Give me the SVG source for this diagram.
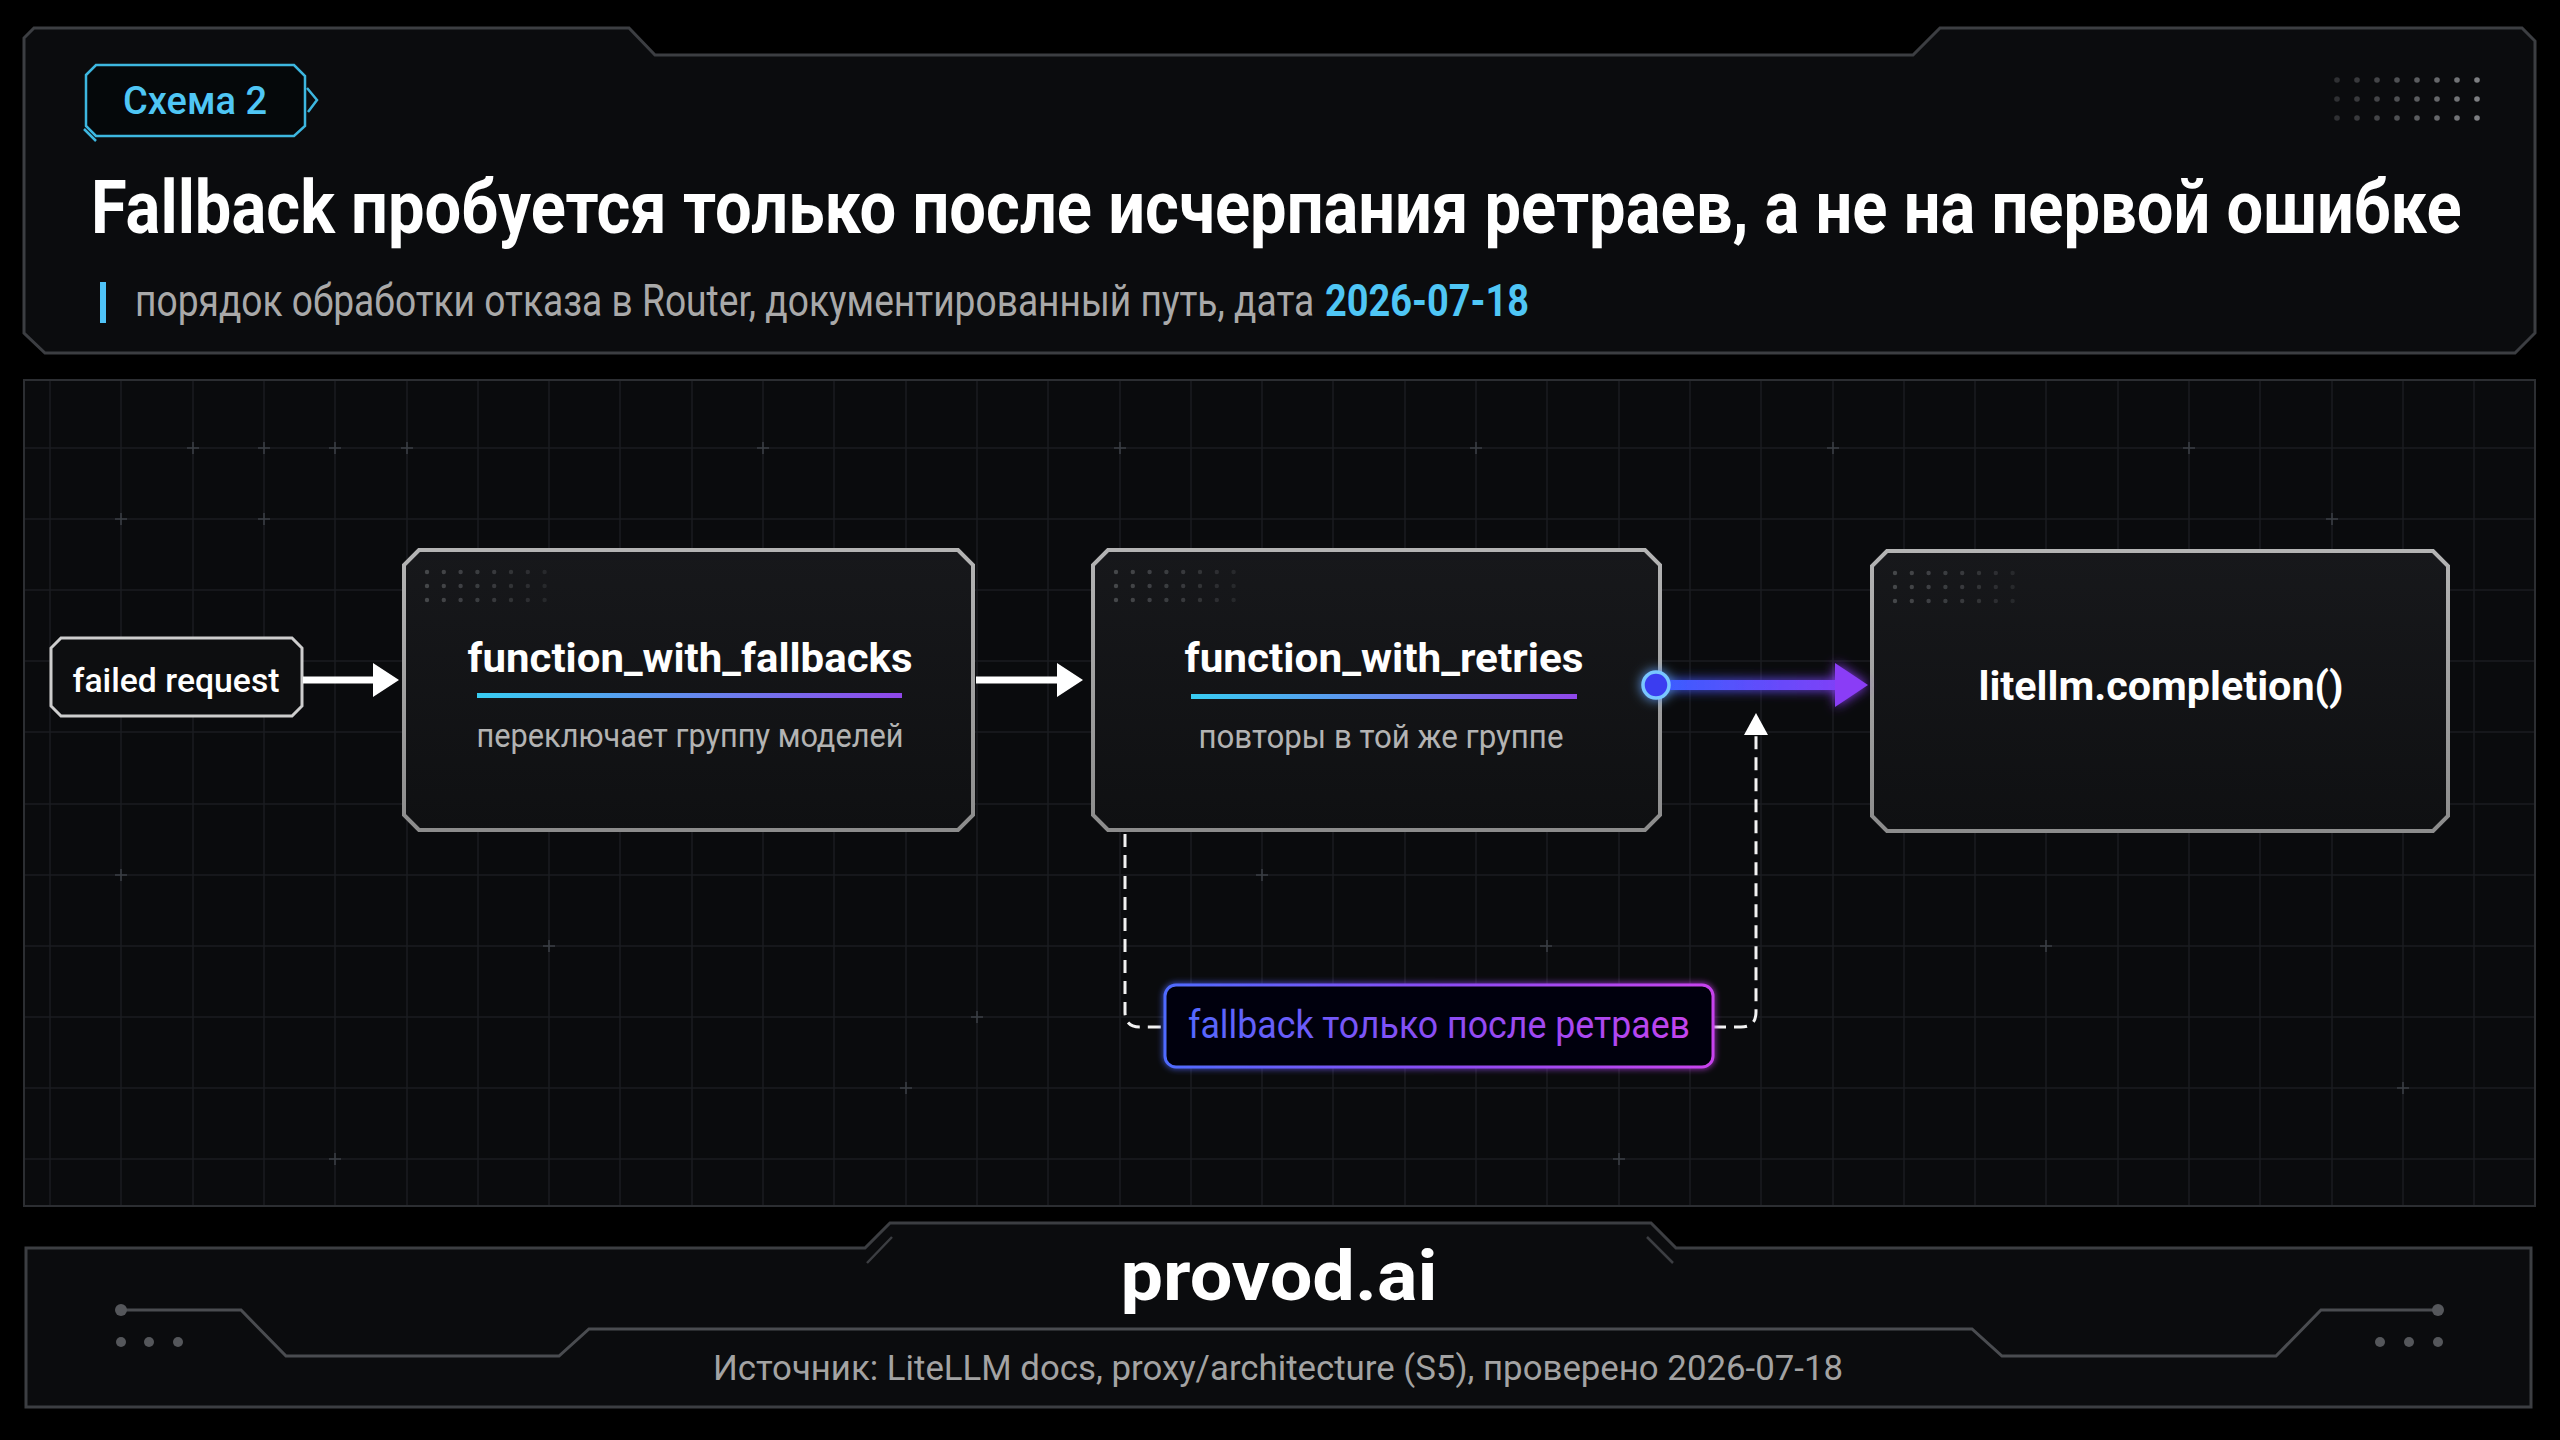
<svg xmlns="http://www.w3.org/2000/svg" width="2560" height="1440" viewBox="0 0 2560 1440">
<defs>
<style>
.panel{fill:#0b0c0e;stroke:#3c3e42;stroke-width:3}
.grid{stroke:#1b1d21;stroke-width:1.5;fill:none}
.cross{stroke:#3b3f45;stroke-width:1.5;fill:none}
.node{fill:url(#nodeFill);stroke:url(#nodeStroke);stroke-width:4}
.dot{fill:#5a5c60}
.t{font-family:Roboto,"Noto Sans",sans-serif}
.ntitle{font-family:Roboto,"Noto Sans",sans-serif;font-weight:700;font-size:40px;fill:#ffffff}
.nsub{font-family:Roboto,"Noto Sans",sans-serif;font-weight:400;font-size:33px;fill:#b3b3b3}
.wline{stroke:#ffffff;stroke-width:7;fill:none}
.dash{stroke:#f2f2f2;stroke-width:3;fill:none;stroke-dasharray:13 8}
.circ{fill:none;stroke:#4a4c50;stroke-width:3}
.cdot{fill:#55575b}
.hdot{fill:#9a9ca0}
</style>
<linearGradient id="nodeFill" x1="0" y1="0" x2="0" y2="1">
<stop offset="0" stop-color="#17181b"/><stop offset="1" stop-color="#0f1012"/>
</linearGradient>
<linearGradient id="nodeStroke" x1="0" y1="0" x2="0" y2="1">
<stop offset="0" stop-color="#b4b4b4"/><stop offset="1" stop-color="#8c8c8c"/>
</linearGradient>
<linearGradient id="bar" x1="0" y1="0" x2="1" y2="0">
<stop offset="0" stop-color="#38cdf2"/><stop offset="1" stop-color="#9047ea"/>
</linearGradient>
<linearGradient id="blueLine" x1="1670" y1="0" x2="1868" y2="0" gradientUnits="userSpaceOnUse">
<stop offset="0" stop-color="#3d5cff"/><stop offset="1" stop-color="#8a3cf6"/>
</linearGradient>
<linearGradient id="labelGrad" x1="1165" y1="0" x2="1713" y2="0" gradientUnits="userSpaceOnUse">
<stop offset="0" stop-color="#4f6bff"/><stop offset="0.5" stop-color="#8a4cf4"/><stop offset="1" stop-color="#c843ee"/>
</linearGradient>
<filter id="glow" x="-20%" y="-50%" width="140%" height="200%">
<feGaussianBlur stdDeviation="6" result="b"/>
<feMerge><feMergeNode in="b"/><feMergeNode in="SourceGraphic"/></feMerge>
</filter>
<filter id="softglow" x="-10%" y="-30%" width="120%" height="160%">
<feGaussianBlur stdDeviation="3" result="b"/>
<feMerge><feMergeNode in="b"/><feMergeNode in="SourceGraphic"/></feMerge>
</filter>
<marker id="arrW" markerUnits="userSpaceOnUse" markerWidth="26" markerHeight="34" viewBox="0 0 26 34" refX="6" refY="17" orient="auto">
<path d="M0,0 L26,17 L0,34 Z" fill="#ffffff"/>
</marker>
<marker id="arrD" markerUnits="userSpaceOnUse" markerWidth="22" markerHeight="24" viewBox="0 0 22 24" refX="4" refY="12" orient="auto">
<path d="M0,0 L22,12 L0,24 Z" fill="#ffffff"/>
</marker>
<g id="dots8">
<circle class="dot" cx="0" cy="0" r="2.2" opacity="0.7"/><circle class="dot" cx="16.8" cy="0" r="2.2" opacity="0.65"/><circle class="dot" cx="33.6" cy="0" r="2.2" opacity="0.6"/><circle class="dot" cx="50.4" cy="0" r="2.2" opacity="0.55"/><circle class="dot" cx="67.2" cy="0" r="2.2" opacity="0.5"/><circle class="dot" cx="84" cy="0" r="2.2" opacity="0.42"/><circle class="dot" cx="100.8" cy="0" r="2.2" opacity="0.34"/><circle class="dot" cx="117.6" cy="0" r="2.2" opacity="0.26"/>
</g>
<g id="nodeDots">
<use href="#dots8" y="0"/><use href="#dots8" y="14"/><use href="#dots8" y="28"/>
</g>
</defs>

<rect width="2560" height="1440" fill="#000000"/>

<!-- header panel -->
<g id="header">
<path class="panel" d="M24,38 L34,28 L629,28 L655,55 L1913,55 L1940,28 L2522,28 L2535,41 L2535,333 L2515,353 L45,353 L24,333 Z"/>
<g id="badge">
<path d="M86,75 L96,65 L294,65 L305,76 L305,126 L294,136 L96,136 L86,126 Z" fill="#05080a" stroke="#3db7e0" stroke-width="2.5"/>
<path d="M84,129 L96,141" stroke="#3db7e0" stroke-width="2.5" fill="none"/>
<path d="M307,88 L317,100 L308,112" stroke="#3db7e0" stroke-width="2.5" fill="none"/>
<text class="t" x="123" y="114" font-size="38" font-weight="500" fill="#4fc6f5" textLength="144" lengthAdjust="spacingAndGlyphs">Схема 2</text>
</g>
<text class="t" transform="translate(91,233) scale(0.85,1)" x="0" y="0" font-size="74" font-weight="700" fill="#ffffff" textLength="2789" lengthAdjust="spacingAndGlyphs">Fallback пробуется только после исчерпания ретраев, а не на первой ошибке</text>
<rect x="100" y="282" width="6" height="41" fill="#4fc3f7"/>
<text class="t" transform="translate(135,316) scale(0.8,1)" x="0" y="0" font-size="44" font-weight="400" fill="#a9a9a9" textLength="1474" lengthAdjust="spacingAndGlyphs">порядок обработки отказа в Router, документированный путь, дата</text>
<text class="t" transform="translate(1325,316) scale(0.8,1)" x="0" y="0" font-size="44" font-weight="700" fill="#4fc6f5" textLength="255" lengthAdjust="spacingAndGlyphs">2026-07-18</text>
<g id="headerDots">
<g opacity="0.25"><circle class="hdot" cx="2337" cy="80" r="2.8"/><circle class="hdot" cx="2337" cy="99" r="2.8"/><circle class="hdot" cx="2337" cy="118" r="2.8"/></g>
<g opacity="0.32"><circle class="hdot" cx="2357" cy="80" r="2.8"/><circle class="hdot" cx="2357" cy="99" r="2.8"/><circle class="hdot" cx="2357" cy="118" r="2.8"/></g>
<g opacity="0.4"><circle class="hdot" cx="2377" cy="80" r="2.8"/><circle class="hdot" cx="2377" cy="99" r="2.8"/><circle class="hdot" cx="2377" cy="118" r="2.8"/></g>
<g opacity="0.48"><circle class="hdot" cx="2397" cy="80" r="2.8"/><circle class="hdot" cx="2397" cy="99" r="2.8"/><circle class="hdot" cx="2397" cy="118" r="2.8"/></g>
<g opacity="0.56"><circle class="hdot" cx="2417" cy="80" r="2.8"/><circle class="hdot" cx="2417" cy="99" r="2.8"/><circle class="hdot" cx="2417" cy="118" r="2.8"/></g>
<g opacity="0.64"><circle class="hdot" cx="2437" cy="80" r="2.8"/><circle class="hdot" cx="2437" cy="99" r="2.8"/><circle class="hdot" cx="2437" cy="118" r="2.8"/></g>
<g opacity="0.72"><circle class="hdot" cx="2457" cy="80" r="2.8"/><circle class="hdot" cx="2457" cy="99" r="2.8"/><circle class="hdot" cx="2457" cy="118" r="2.8"/></g>
<g opacity="0.8"><circle class="hdot" cx="2477" cy="80" r="2.8"/><circle class="hdot" cx="2477" cy="99" r="2.8"/><circle class="hdot" cx="2477" cy="118" r="2.8"/></g>
</g>
</g>

<!-- main panel with grid -->
<g id="canvas">
<rect x="24" y="380" width="2511" height="826" fill="#0a0b0d" stroke="#2c2e32" stroke-width="2"/>
<path class="grid" d="M50,381V1205 M121,381V1205 M193,381V1205 M264,381V1205 M335,381V1205 M407,381V1205 M478,381V1205 M549,381V1205 M620,381V1205 M692,381V1205 M763,381V1205 M834,381V1205 M906,381V1205 M977,381V1205 M1048,381V1205 M1120,381V1205 M1191,381V1205 M1262,381V1205 M1333,381V1205 M1405,381V1205 M1476,381V1205 M1547,381V1205 M1619,381V1205 M1690,381V1205 M1761,381V1205 M1833,381V1205 M1904,381V1205 M1975,381V1205 M2046,381V1205 M2118,381V1205 M2189,381V1205 M2260,381V1205 M2332,381V1205 M2403,381V1205 M2474,381V1205 M25,448H2534 M25,519H2534 M25,590H2534 M25,661H2534 M25,732H2534 M25,804H2534 M25,875H2534 M25,946H2534 M25,1017H2534 M25,1088H2534 M25,1159H2534"/>
<path class="cross" d="M187,448h12M193,442v12 M258,448h12M264,442v12 M329,448h12M335,442v12 M401,448h12M407,442v12 M115,519h12M121,513v12 M258,519h12M264,513v12 M757,448h12M763,442v12 M1114,448h12M1120,442v12 M1470,448h12M1476,442v12 M1827,448h12M1833,442v12 M2183,448h12M2189,442v12 M2397,1088h12M2403,1082v12 M543,946h12M549,940v12 M900,1088h12M906,1082v12 M1256,875h12M1262,869v12 M1613,1159h12M1619,1153v12 M2040,946h12M2046,940v12 M2326,519h12M2332,513v12 M971,1017h12M977,1011v12 M329,1159h12M335,1153v12 M1540,946h12M1547,940v12 M2112,804h12M2118,798v12 M115,875h12M121,869v12"/>
</g>

<!-- nodes -->
<g id="node-failed-request">
<path d="M61,638 L292,638 L302,648 L302,706 L292,716 L61,716 L51,706 L51,648 Z" fill="#0d0e10" stroke="#cdcdcd" stroke-width="3"/>
<text class="t" x="176" y="692" text-anchor="middle" font-size="34" font-weight="500" fill="#ffffff" textLength="207" lengthAdjust="spacingAndGlyphs">failed request</text>
</g>

<g id="node-function-with-fallbacks">
<path class="node" d="M419,550 L958,550 L973,565 L973,815 L958,830 L419,830 L404,815 L404,565 Z"/>
<use href="#nodeDots" x="427" y="572"/>
<text class="ntitle" x="690" y="672" text-anchor="middle" textLength="445" lengthAdjust="spacingAndGlyphs">function_with_fallbacks</text>
<rect x="477" y="693" width="425" height="5" fill="url(#bar)"/>
<text class="nsub" x="690" y="747" text-anchor="middle" textLength="427" lengthAdjust="spacingAndGlyphs">переключает группу моделей</text>
</g>

<g id="node-function-with-retries">
<path class="node" d="M1108,550 L1645,550 L1660,565 L1660,815 L1645,830 L1108,830 L1093,815 L1093,565 Z"/>
<use href="#nodeDots" x="1116" y="572"/>
<text class="ntitle" x="1384" y="672" text-anchor="middle" textLength="399" lengthAdjust="spacingAndGlyphs">function_with_retries</text>
<rect x="1191" y="694" width="386" height="5" fill="url(#bar)"/>
<text class="nsub" x="1381" y="748" text-anchor="middle" textLength="365" lengthAdjust="spacingAndGlyphs">повторы в той же группе</text>
</g>

<g id="node-litellm-completion">
<path class="node" d="M1887,551 L2433,551 L2448,566 L2448,816 L2433,831 L1887,831 L1872,816 L1872,566 Z"/>
<use href="#nodeDots" x="1895" y="573"/>
<text class="ntitle" x="2161" y="700" text-anchor="middle" font-size="42" font-weight="600" textLength="365" lengthAdjust="spacingAndGlyphs">litellm.completion()</text>
</g>

<!-- connectors -->
<g id="connectors">
<path class="wline" d="M303,680 H379" marker-end="url(#arrW)"/>
<path class="wline" d="M976,680 H1063" marker-end="url(#arrW)"/>
<g id="edge-retries-completion" filter="url(#glow)">
<path d="M1668,685 H1840" stroke="url(#blueLine)" stroke-width="10" fill="none"/>
<path d="M1835,663 L1868,685 L1835,707 Z" fill="#8a3cf6"/>
<circle cx="1656" cy="685" r="13" fill="#3a3ef0" stroke="#79c6ff" stroke-width="3.5"/>
</g>
<path class="dash" d="M1125,834 V1012 Q1125,1027 1140,1027 H1165"/>
<path class="dash" d="M1713,1027 H1741 Q1756,1027 1756,1012 V731" marker-end="url(#arrD)"/>
</g>

<g id="edge-label">
<rect x="1165" y="985" width="548" height="82" rx="11" fill="#050507" stroke="url(#labelGrad)" stroke-width="3" filter="url(#softglow)"/>
<text class="t" x="1188" y="1038" font-size="38" font-weight="400" fill="url(#labelGrad)" textLength="502" lengthAdjust="spacingAndGlyphs">fallback только после ретраев</text>
</g>

<!-- footer -->
<g id="footer">
<path class="panel" d="M26,1248 L865,1248 L890,1223 L1651,1223 L1676,1248 L2531,1248 L2531,1407 L26,1407 Z"/>
<path d="M892,1237 L867,1263 M1647,1237 L1673,1263" stroke="#3c3e42" stroke-width="2.5" fill="none"/>
<path class="circ" d="M121,1310 H241 L286,1356 H559 L589,1329 H1972 L2002,1356 H2276 L2321,1310 H2438"/>
<circle class="cdot" cx="121" cy="1310" r="6"/>
<circle class="cdot" cx="2438" cy="1310" r="6"/>
<circle class="cdot" cx="121" cy="1342" r="5"/><circle class="cdot" cx="149" cy="1342" r="5"/><circle class="cdot" cx="178" cy="1342" r="5"/>
<circle class="cdot" cx="2380" cy="1342" r="5"/><circle class="cdot" cx="2409" cy="1342" r="5"/><circle class="cdot" cx="2438" cy="1342" r="5"/>
<text class="t" x="1279" y="1300" text-anchor="middle" font-size="70" font-weight="700" fill="#ffffff" textLength="317" lengthAdjust="spacingAndGlyphs">provod.ai</text>
<text class="t" x="1278" y="1380" text-anchor="middle" font-size="35" font-weight="400" fill="#a3a3a3" textLength="1130" lengthAdjust="spacingAndGlyphs">Источник: LiteLLM docs, proxy/architecture (S5), проверено 2026-07-18</text>
</g>
</svg>
